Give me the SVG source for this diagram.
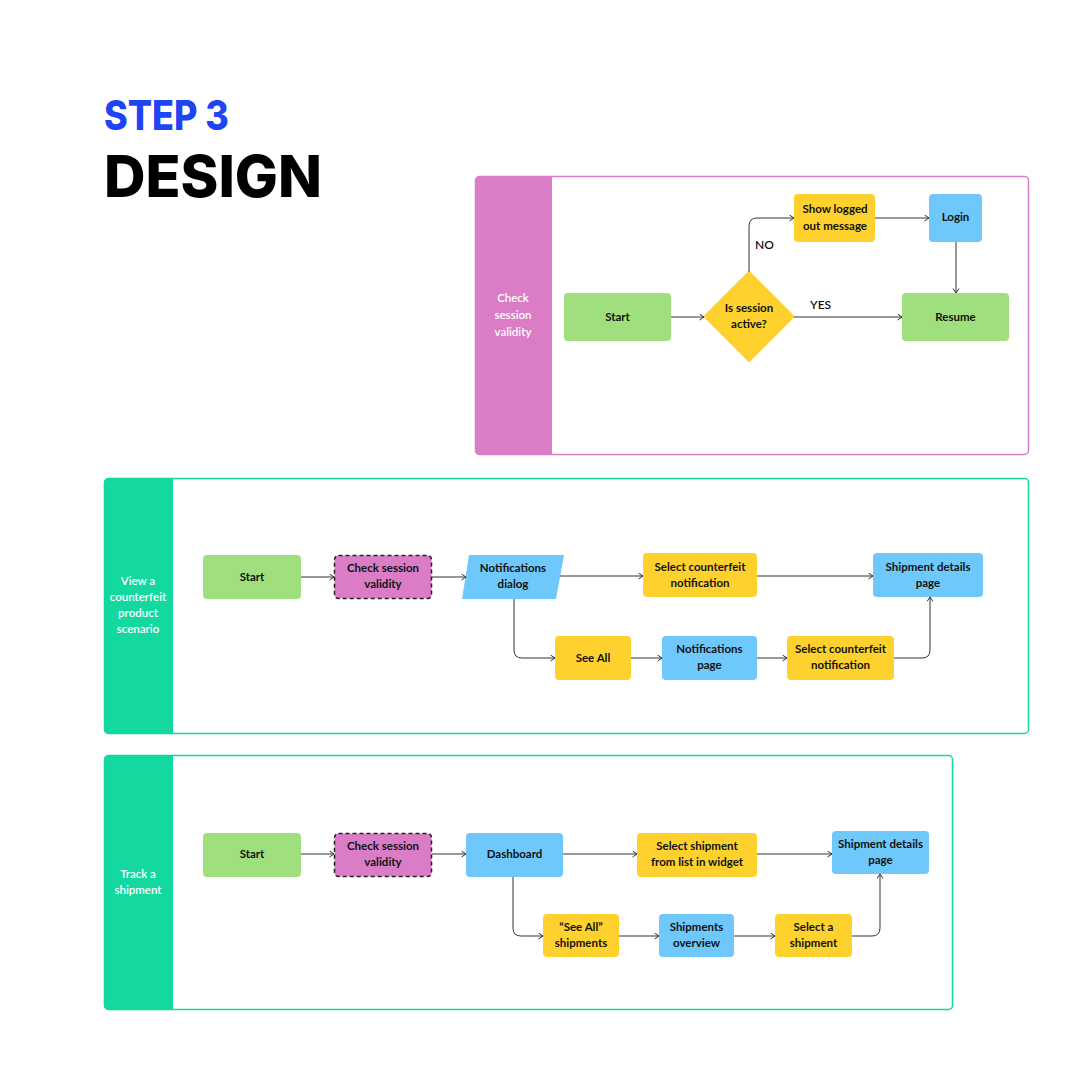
<svg xmlns="http://www.w3.org/2000/svg" width="1080" height="1080" viewBox="0 0 1080 1080">
<style>
  .t{font-family:Lato,"Liberation Sans",sans-serif;font-weight:700;font-size:11.5px;fill:#111;text-anchor:middle}
  .lab{font-family:Lato,"Liberation Sans",sans-serif;font-weight:600;font-size:11.5px;fill:#fff;text-anchor:middle}
  .yn{font-family:Lato,"Liberation Sans",sans-serif;font-weight:600;font-size:12px;fill:#111}
  .green{fill:#9fdf7d}
  .yellow{fill:#ffd12f}
  .blue{fill:#6fc8fb}
  .pink{fill:#da7cc6}
  .dash{fill:#da7cc6;stroke:#222;stroke-width:1.5;stroke-dasharray:4 3}
  .conn path{fill:none;stroke:#333;stroke-width:1;marker-end:url(#arr)}
</style>
<defs>
  <marker id="arr" markerWidth="8" markerHeight="8" refX="5" refY="3.5" orient="auto" markerUnits="userSpaceOnUse">
    <path d="M0.5,0.5 L5,3.5 L0.5,6.5" fill="none" stroke="#333" stroke-width="1"/>
  </marker>
</defs>
<rect width="1080" height="1080" fill="#fff"/>

<g id="title">
  <text x="104" y="130" font-family="Inter,'Liberation Sans',sans-serif" font-weight="800" font-size="41" fill="#1e44f4" textLength="125" lengthAdjust="spacingAndGlyphs">STEP 3</text>
  <text x="104" y="197" font-family="Inter,'Liberation Sans',sans-serif" font-weight="800" font-size="58" fill="#000" textLength="218" lengthAdjust="spacingAndGlyphs">DESIGN</text>
</g>

<!-- Panel 1 -->
<g id="panel1">
  <rect x="475.5" y="176.5" width="553" height="278" rx="4" fill="#fff" stroke="#da7cc6" stroke-width="1.5"/>
  <path d="M479.5,176.5 H552 V454.5 H479.5 Q475.5,454.5 475.5,450.5 V180.5 Q475.5,176.5 479.5,176.5 Z" fill="#da7cc6"/>
  <text class="lab" x="513" y="302">Check</text>
  <text class="lab" x="513" y="319">session</text>
  <text class="lab" x="513" y="336">validity</text>
</g>
<g id="p1-start"><rect class="green" x="564" y="293" width="107" height="48" rx="4"/><text class="t" x="617.5" y="321">Start</text></g>
<g id="p1-decision"><path class="yellow" d="M749,272 L793.5,316.5 L749,361 L704.5,316.5 Z" stroke="#ffd12f" stroke-width="2" stroke-linejoin="round"/><text class="t" x="749" y="312">Is session</text><text class="t" x="749" y="328">active?</text></g>
<g id="p1-logged"><rect class="yellow" x="794" y="194" width="81" height="48" rx="4"/><text class="t" x="835" y="213">Show logged</text><text class="t" x="835" y="230">out message</text></g>
<g id="p1-login"><rect class="blue" x="929" y="194" width="53" height="48" rx="4"/><text class="t" x="955.5" y="221">Login</text></g>
<g id="p1-resume"><rect class="green" x="902" y="293" width="107" height="48" rx="4"/><text class="t" x="955.5" y="321">Resume</text></g>

<!-- Panel 2 -->
<g id="panel2">
  <rect x="104.5" y="478.5" width="924" height="255" rx="4" fill="#fff" stroke="#13d8a0" stroke-width="1.5"/>
  <path d="M108.5,478.5 H173 V733.5 H108.5 Q104.5,733.5 104.5,729.5 V482.5 Q104.5,478.5 108.5,478.5 Z" fill="#13d8a0"/>
  <text class="lab" x="138" y="585">View a</text>
  <text class="lab" x="138" y="601">counterfeit</text>
  <text class="lab" x="138" y="617">product</text>
  <text class="lab" x="138" y="633">scenario</text>
</g>
<g id="p2-start"><rect class="green" x="203" y="555" width="98" height="44" rx="4"/><text class="t" x="252" y="581">Start</text></g>
<g id="p2-check"><rect class="dash" x="334.5" y="555.5" width="97" height="43" rx="4"/><text class="t" x="383" y="572">Check session</text><text class="t" x="383" y="588">validity</text></g>
<g id="p2-notif"><path class="blue" d="M469,555 H564 L556,599 H462 Z"/><text class="t" x="513" y="572">Notifications</text><text class="t" x="513" y="588">dialog</text></g>
<g id="p2-select1"><rect class="yellow" x="643" y="553" width="114" height="44" rx="4"/><text class="t" x="700" y="571">Select counterfeit</text><text class="t" x="700" y="587">notification</text></g>
<g id="p2-details"><rect class="blue" x="873" y="553" width="110" height="44" rx="4"/><text class="t" x="928" y="571">Shipment details</text><text class="t" x="928" y="587">page</text></g>
<g id="p2-seeall"><rect class="yellow" x="555" y="636" width="76" height="44" rx="4"/><text class="t" x="593" y="662">See All</text></g>
<g id="p2-notifpage"><rect class="blue" x="662" y="636" width="95" height="44" rx="4"/><text class="t" x="709.5" y="653">Notifications</text><text class="t" x="709.5" y="669">page</text></g>
<g id="p2-select2"><rect class="yellow" x="787" y="636" width="107" height="44" rx="4"/><text class="t" x="840.5" y="653">Select counterfeit</text><text class="t" x="840.5" y="669">notification</text></g>

<!-- Panel 3 -->
<g id="panel3">
  <rect x="104.5" y="755.5" width="848" height="254" rx="4" fill="#fff" stroke="#13d8a0" stroke-width="1.5"/>
  <path d="M108.5,755.5 H173 V1009.5 H108.5 Q104.5,1009.5 104.5,1005.5 V759.5 Q104.5,755.5 108.5,755.5 Z" fill="#13d8a0"/>
  <text class="lab" x="138" y="878">Track a</text>
  <text class="lab" x="138" y="894">shipment</text>
</g>
<g id="p3-start"><rect class="green" x="203" y="833" width="98" height="44" rx="4"/><text class="t" x="252" y="858">Start</text></g>
<g id="p3-check"><rect class="dash" x="334.5" y="833.5" width="97" height="43" rx="4"/><text class="t" x="383" y="850">Check session</text><text class="t" x="383" y="866">validity</text></g>
<g id="p3-dashboard"><rect class="blue" x="466" y="833" width="97" height="44" rx="4"/><text class="t" x="514.5" y="858">Dashboard</text></g>
<g id="p3-select"><rect class="yellow" x="637" y="833" width="120" height="44" rx="4"/><text class="t" x="697" y="850">Select shipment</text><text class="t" x="697" y="866">from list in widget</text></g>
<g id="p3-details"><rect class="blue" x="832" y="831" width="97" height="43" rx="4"/><text class="t" x="880.5" y="848">Shipment details</text><text class="t" x="880.5" y="864">page</text></g>
<g id="p3-seeall"><rect class="yellow" x="543" y="914" width="76" height="43" rx="4"/><text class="t" x="581" y="931">“See All”</text><text class="t" x="581" y="947">shipments</text></g>
<g id="p3-overview"><rect class="blue" x="659" y="914" width="75" height="43" rx="4"/><text class="t" x="696.5" y="931">Shipments</text><text class="t" x="696.5" y="947">overview</text></g>
<g id="p3-selecta"><rect class="yellow" x="775" y="914" width="77" height="43" rx="4"/><text class="t" x="813.5" y="931">Select a</text><text class="t" x="813.5" y="947">shipment</text></g>

<g id="connectors" class="conn">
  <path d="M671,317 H704"/>
  <path d="M749,272 V226 Q749,218 757,218 H794"/>
  <path d="M875,218 H929"/>
  <path d="M956,242 V293"/>
  <path d="M794,317 H902"/>

  <path d="M301,577 H334"/>
  <path d="M432,577 H466"/>
  <path d="M560,576 H643"/>
  <path d="M757,576 H873"/>
  <path d="M514,599 V650 Q514,658 522,658 H555"/>
  <path d="M631,658 H662"/>
  <path d="M757,658 H787"/>
  <path d="M894,658 H922 Q930,658 930,650 V597"/>

  <path d="M301,854 H334"/>
  <path d="M432,854 H466"/>
  <path d="M563,854 H637"/>
  <path d="M757,854 H832"/>
  <path d="M513,877 V928 Q513,936 521,936 H543"/>
  <path d="M619,936 H659"/>
  <path d="M734,936 H775"/>
  <path d="M852,936 H872 Q880,936 880,928 V874"/>
</g>
<g id="edge-labels">
  <text class="yn" x="755" y="249">NO</text>
  <text class="yn" x="810" y="309">YES</text>
</g>
</svg>
